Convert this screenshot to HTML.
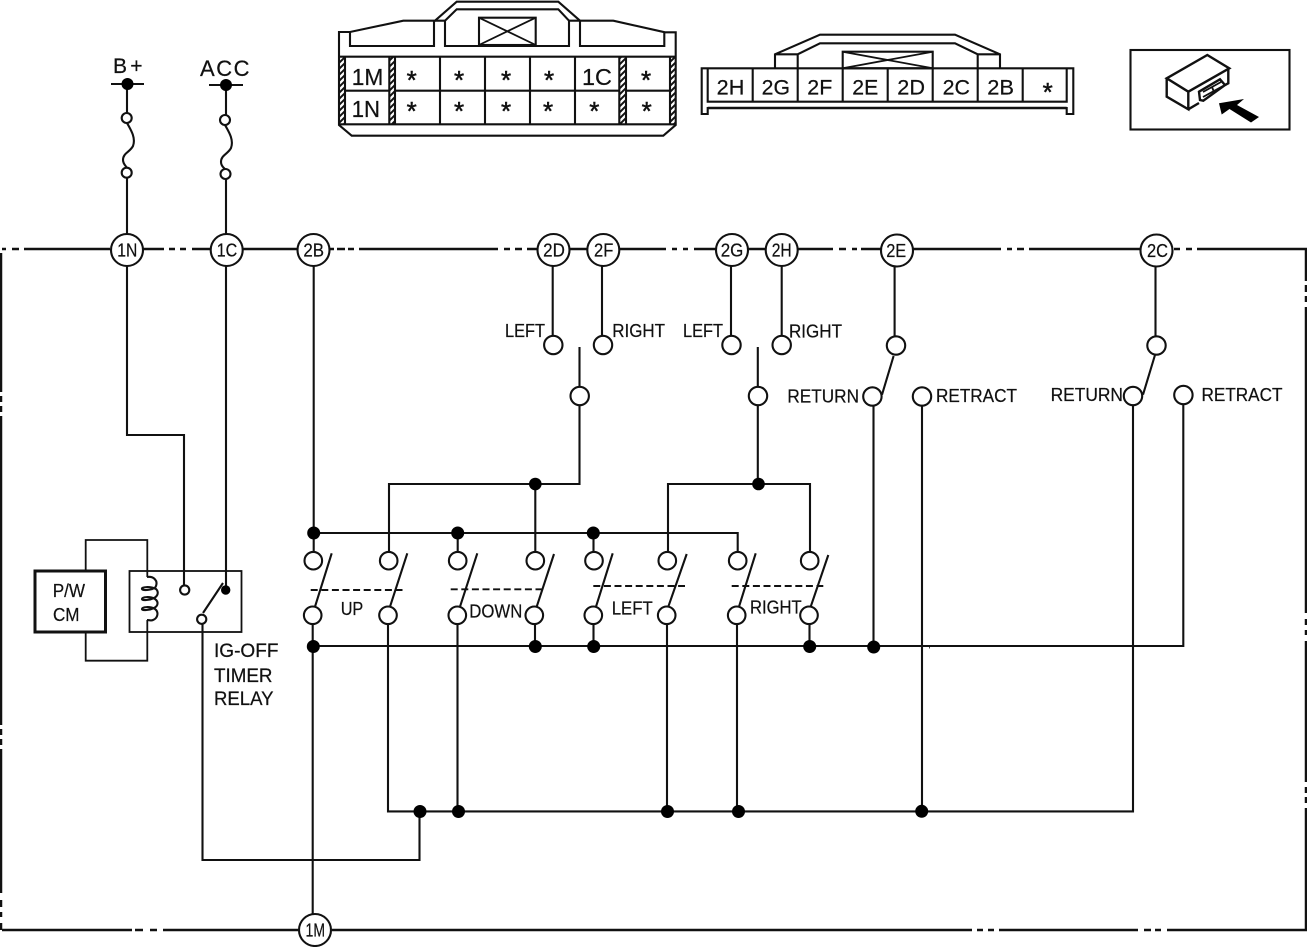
<!DOCTYPE html>
<html lang="en">
<head>
<meta charset="utf-8">
<title>Wiring diagram</title>
<style>
html,body{margin:0;padding:0;background:#fff;}
svg{display:block;}
text{font-family:"Liberation Sans",sans-serif;fill:#111;stroke:#111;stroke-width:.22px;}
.w{fill:none;stroke:#111;stroke-width:2.1;stroke-linejoin:miter;}
.n{fill:none;stroke:#111;stroke-width:1.8;}
.b{fill:none;stroke:#111;stroke-width:3;}
.o{fill:#fff;stroke:#111;stroke-width:2.1;}
.d{fill:#000;}
.da{fill:none;stroke:#111;stroke-width:1.9;stroke-dasharray:7 3.6;}
.l{font-size:18.5px;}
.c{font-size:18px;text-anchor:middle;}
.q{font-size:21px;}
.s{font-size:26px;text-anchor:middle;stroke-width:.5px;}
</style>
</head>
<body>
<svg width="1307" height="947" viewBox="0 0 1307 947" xmlns="http://www.w3.org/2000/svg">
<defs>
<pattern id="h" width="6" height="6" patternUnits="userSpaceOnUse">
<rect width="6" height="6" fill="#fff"/>
<path d="M-1 7L7 -1M-1 1L1 -1M5 7L7 5" stroke="#111" stroke-width="2"/>
</pattern>
</defs>
<rect width="1307" height="947" fill="#fff"/>

<!-- frame -->
<path class="w" style="stroke-width:2.5" d="M2 249H6M12 249H19M24 249H110M143 249H164M169 249H175M180 249H186M192 249H210M240 249H298M330 249H334M337 249H345M348 249H354M359 249H498M504 249H510M515 249H522M527 249H537M569 249H587M619 249H666M672 249H677M683 249H688M694 249H716M748 249H766M798 249H833M839 249H846M852 249H857M861 249H881M913 249H1001M1007 249H1012M1017 249H1024M1029 249H1141M1174 249H1180M1186 249H1192M1197 249H1306V281M1306 285V292M1306 296V302M1306 307V613M1306 619V625M1306 630V635M1306 641V782M1306 787V793M1306 797V803M1306 808V930H1167M1161 930H1155M1151 930H1144M1138 930H999M994 930H988M983 930H977M972 930H332M298 930H163M157 930H150M143 930H135M132 930H2M1 930V923M1 917V912M1 907V900M1 893V749M1 745V739M1 735V729M1 725V416M1 412V406M1 402V396M1 392V253"/>

<!-- power inputs -->
<path class="w" d="M111 84H144M127 84V113M127 178V234M209 85H243M226 85V115M226 179V234"/>
<path class="w" d="M127 123C131 130 136 138 133 146C130 152 123 153 123 160C123 164 126 166 127 168"/>
<path class="w" d="M225 125C229 132 234 140 231 148C228 154 221 155 221 162C221 166 224 168 225 169"/>
<circle class="d" cx="127.5" cy="84" r="6"/><circle class="d" cx="226" cy="85" r="6"/>
<circle class="o" cx="126.7" cy="118" r="5"/><circle class="o" cx="126.7" cy="172.7" r="5"/>
<circle class="o" cx="225" cy="120" r="5"/><circle class="o" cx="225.5" cy="174" r="5"/>
<text x="113" y="73" font-size="21" textLength="29.5">B+</text>
<text x="200" y="76" font-size="22" textLength="49.5">ACC</text>

<!-- relay -->
<path class="w" d="M127 266V435H184V585M226 266V586"/>
<rect class="n" x="129.5" y="571" width="112" height="61"/>
<rect class="b" x="35" y="571" width="70.5" height="61"/>
<path class="n" d="M85.7 571V540H147.3V577M85.7 632V660.7H147.3V620"/>
<path class="w" d="M147 577C154 576 158 581 156 586C155 590 143 591 142 589C141 587 150 586 156 589C159 592 158 596 154 598C150 600 142 601 142 599C142 597 150 596 155 599C159 602 158 606 154 608C150 610 142 611 142 609C142 607 150 606 155 609C159 612 158 618 153 620C151 621 149 620 147 620"/>
<circle class="o" cx="184.7" cy="590" r="4.6"/>
<circle class="d" cx="225.7" cy="590" r="4.7"/>
<path class="w" d="M203 613L223 583"/>
<circle class="o" cx="201.7" cy="619.3" r="4.6"/>
<path class="w" d="M202.5 624V860H419.5V812"/>
<text x="52.7" y="597" font-size="18" textLength="32.3" lengthAdjust="spacingAndGlyphs">P/W</text>
<text x="53" y="621" font-size="18" textLength="26.5" lengthAdjust="spacingAndGlyphs">CM</text>
<text x="214" y="657" font-size="19" textLength="64.5" lengthAdjust="spacingAndGlyphs">IG-OFF</text>
<text x="214" y="682" font-size="19" textLength="58.5" lengthAdjust="spacingAndGlyphs">TIMER</text>
<text x="214" y="705" font-size="19" textLength="59.5" lengthAdjust="spacingAndGlyphs">RELAY</text>

<!-- upper wires -->
<path class="w" d="M552.7 266V336M602 266V336M731 266V336M781.7 266V336M894.6 266V336M1155.5 266V336"/>
<path class="w" d="M579.5 347V484H389V552M535.3 484V552M757.8 347V484M668 552V484H810V552"/>
<path class="w" d="M313.7 266V552M313.7 533H737.7V552M457.7 533V552M593.5 533V552"/>
<path class="w" d="M312.7 625V915M313 646H1183.3V405M388 625V811.4H1133V405M457.5 625V811M535 625V646M593.5 625V646M667 625V811M737 625V811M809.5 625V646M873.5 405V646M922 405V811"/>
<path class="w" d="M893.6 356L882 394.7M1155 355L1143 394.7"/>

<!-- switch arms -->
<path class="w" d="M331.7 553.3L315 606.7M407.3 553.3L390 606.7M477.3 553.3L460 606.7M554 554L536.7 606.7M612.7 553.3L596 606.7M686.7 554L668.3 606.7M755.7 553.3L739 606.7M828.3 555L810.7 606.7"/>
<path class="da" d="M310.7 590H402.7M450.7 589.3H541.7M593.3 586H685M731.7 586H823.3"/>

<!-- open circles -->
<g>
<circle class="o" cx="553.3" cy="345" r="9.2"/><circle class="o" cx="603" cy="345" r="9.2"/>
<circle class="o" cx="731.5" cy="345" r="9.2"/><circle class="o" cx="781.7" cy="345" r="9.2"/>
<circle class="o" cx="896" cy="345.5" r="9.2"/><circle class="o" cx="1156.5" cy="345.5" r="9.2"/>
<circle class="o" cx="579.7" cy="396" r="9.2"/><circle class="o" cx="758" cy="396" r="9.2"/>
<circle class="o" cx="872.4" cy="396.5" r="9.2"/><circle class="o" cx="922" cy="396.5" r="9.2"/>
<circle class="o" cx="1133" cy="396" r="9.2"/><circle class="o" cx="1183.4" cy="395" r="9.2"/>
<circle class="o" cx="313.3" cy="560.7" r="8.8"/><circle class="o" cx="388.7" cy="560.7" r="8.8"/>
<circle class="o" cx="457.7" cy="560.7" r="8.8"/><circle class="o" cx="535.3" cy="560.7" r="8.8"/>
<circle class="o" cx="594" cy="560.7" r="8.8"/><circle class="o" cx="667.3" cy="560.7" r="8.8"/>
<circle class="o" cx="737.7" cy="560.7" r="8.8"/><circle class="o" cx="809.7" cy="560.7" r="8.8"/>
<circle class="o" cx="312.7" cy="615.3" r="8.8"/><circle class="o" cx="388" cy="615.3" r="8.8"/>
<circle class="o" cx="457.3" cy="615.3" r="8.8"/><circle class="o" cx="534.3" cy="615.3" r="8.8"/>
<circle class="o" cx="593.3" cy="615.3" r="8.8"/><circle class="o" cx="666.7" cy="615.3" r="8.8"/>
<circle class="o" cx="736.7" cy="615.3" r="8.8"/><circle class="o" cx="809" cy="615.3" r="8.8"/>
</g>

<!-- junction dots -->
<circle class="d" cx="535.3" cy="484" r="6.3"/><circle class="d" cx="758.5" cy="484" r="6.3"/>
<circle class="d" cx="313.7" cy="533" r="6.5"/><circle class="d" cx="457.7" cy="533" r="6.5"/><circle class="d" cx="593.3" cy="533" r="6.5"/>
<circle class="d" cx="313.3" cy="646.5" r="6.5"/><circle class="d" cx="535.3" cy="646.5" r="6.5"/><circle class="d" cx="593.7" cy="646.5" r="6.5"/><circle class="d" cx="809.7" cy="646.5" r="6.5"/><circle class="d" cx="873.7" cy="647" r="6.5"/>
<circle class="d" cx="420" cy="811.5" r="6.5"/><circle class="d" cx="458.5" cy="811.5" r="6.5"/><circle class="d" cx="667.5" cy="811.5" r="6.5"/><circle class="d" cx="738.5" cy="811.5" r="6.5"/><circle class="d" cx="921.7" cy="811.3" r="6.5"/>
<rect x="929" y="647" width="1" height="1.5" fill="#444"/>

<!-- connector bubbles -->
<circle class="o" cx="127" cy="250" r="16"/><text class="c" x="127.3" y="256.7" textLength="20" lengthAdjust="spacingAndGlyphs">1N</text>
<circle class="o" cx="226.7" cy="250" r="16"/><text class="c" x="227" y="256.7" textLength="20.5" lengthAdjust="spacingAndGlyphs">1C</text>
<circle class="o" cx="313.5" cy="250" r="16"/><text class="c" x="313.7" y="256.7" textLength="20.7" lengthAdjust="spacingAndGlyphs">2B</text>
<circle class="o" cx="553.5" cy="250" r="16"/><text class="c" x="554" y="256.7" textLength="21.7" lengthAdjust="spacingAndGlyphs">2D</text>
<circle class="o" cx="603.3" cy="250" r="16"/><text class="c" x="603.7" y="256.7" textLength="19.3" lengthAdjust="spacingAndGlyphs">2F</text>
<circle class="o" cx="732" cy="250" r="16"/><text class="c" x="732" y="256.7" textLength="22.6" lengthAdjust="spacingAndGlyphs">2G</text>
<circle class="o" cx="781.7" cy="250" r="16"/><text class="c" x="781.7" y="256.7" textLength="20" lengthAdjust="spacingAndGlyphs">2H</text>
<circle class="o" cx="897" cy="250.5" r="16"/><text class="c" x="896.2" y="257" textLength="20" lengthAdjust="spacingAndGlyphs">2E</text>
<circle class="o" cx="1156.5" cy="250.5" r="16"/><text class="c" x="1157.5" y="257" textLength="21" lengthAdjust="spacingAndGlyphs">2C</text>
<circle class="o" cx="315" cy="930" r="16"/><text class="c" x="315.3" y="936.7" textLength="19.5" lengthAdjust="spacingAndGlyphs">1M</text>

<!-- labels -->
<text class="l" x="505" y="337" textLength="40" lengthAdjust="spacingAndGlyphs">LEFT</text>
<text class="l" x="612.3" y="337" textLength="52.7" lengthAdjust="spacingAndGlyphs">RIGHT</text>
<text class="l" x="683" y="337" textLength="40" lengthAdjust="spacingAndGlyphs">LEFT</text>
<text class="l" x="789" y="337.5" textLength="53" lengthAdjust="spacingAndGlyphs">RIGHT</text>
<text class="l" x="787.4" y="402.5" textLength="71.6" lengthAdjust="spacingAndGlyphs">RETURN</text>
<text class="l" x="936" y="402" textLength="81" lengthAdjust="spacingAndGlyphs">RETRACT</text>
<text class="l" x="1050.6" y="401" textLength="72.4" lengthAdjust="spacingAndGlyphs">RETURN</text>
<text class="l" x="1201.5" y="401" textLength="81" lengthAdjust="spacingAndGlyphs">RETRACT</text>
<text class="l" x="340.7" y="615" textLength="22.6" lengthAdjust="spacingAndGlyphs">UP</text>
<text class="l" x="469.3" y="617.7" textLength="53" lengthAdjust="spacingAndGlyphs">DOWN</text>
<text class="l" x="611.7" y="614.3" textLength="41" lengthAdjust="spacingAndGlyphs">LEFT</text>
<text class="l" x="750" y="613.3" textLength="51.7" lengthAdjust="spacingAndGlyphs">RIGHT</text>

<!-- connector 1 -->
<g>
<rect x="339" y="57" width="6" height="67.5" fill="url(#h)"/>
<rect x="389.3" y="57" width="5.7" height="67.5" fill="url(#h)"/>
<rect x="619.3" y="57" width="6.7" height="67.5" fill="url(#h)"/>
<rect x="670" y="57" width="5.7" height="67.5" fill="url(#h)"/>
<path class="w" d="M339 125V32H350L403.3 20.7H435L456.7 1.7H558.3L580 20.7H613.3L665 32.3H675.7V125L663.3 135.7H351.7L339 125Z"/>
<path class="w" d="M350 32V46H434V20.7M445 20.7V46H569V20.7M445 20.7L456.7 9.3H558.3L569 20.7M580 20.7V46H664.3V32.3"/>
<path class="w" d="M435 20.7H445M569 20.7H580"/>
<rect class="w" x="479" y="17.7" width="56.7" height="27.3"/>
<path class="n" d="M479 17.7L535.7 45M535.7 17.7L479 45"/>
<path class="w" d="M339 56.7H675.7M339 124.3H675.7M345 57V124M389.3 57V124M395 57V124M440 57V124M485 57V124M530 57V124M575 57V124M619.3 57V124M626 57V124M670 57V124M345 90.7H389.3M395 90.7H619.3M626 90.7H670"/>
<text x="351.7" y="85" font-size="23" textLength="31.6" lengthAdjust="spacingAndGlyphs">1M</text>
<text x="351.7" y="117" font-size="23" textLength="28.3" lengthAdjust="spacingAndGlyphs">1N</text>
<text x="582" y="85" font-size="23" textLength="30" lengthAdjust="spacingAndGlyphs">1C</text>
<text class="s" x="411.7" y="89">*</text><text class="s" x="459" y="89">*</text><text class="s" x="506" y="89">*</text><text class="s" x="549" y="89">*</text><text class="s" x="646" y="89">*</text>
<text class="s" x="411.7" y="120">*</text><text class="s" x="459" y="120">*</text><text class="s" x="506" y="120">*</text><text class="s" x="548" y="120">*</text><text class="s" x="594.3" y="120">*</text><text class="s" x="646.7" y="120">*</text>
</g>

<!-- connector 2 -->
<g>
<path class="w" d="M775 68.3V54.3L820 34.7H955L1000 54.3V68.3M797.7 68.3V54.3L820 43.3H955L977.7 54.3V68.3M775 54.3H797.7M977.7 54.3H1000"/>
<rect class="w" x="842.7" y="51.7" width="90" height="16.6"/>
<path class="n" d="M842.7 51.7L932.7 68.3M932.7 51.7L842.7 68.3"/>
<path class="w" d="M701.7 68.3H1073.3V114H1066.7V108H707.7V114H701.7Z"/>
<path class="w" d="M707.7 68.3V101.7H1066.7V68.3M752.7 68.3V101.7M797.7 68.3V101.7M842.7 68.3V101.7M887.7 68.3V101.7M932.7 68.3V101.7M977.7 68.3V101.7M1022.7 68.3V101.7"/>
<path class="w" style="stroke-width:2.6" d="M707.7 108H1066.7"/>
<text class="q" x="716.7" y="94.3" textLength="27.6" lengthAdjust="spacingAndGlyphs">2H</text>
<text class="q" x="761.7" y="94.3" textLength="28.3" lengthAdjust="spacingAndGlyphs">2G</text>
<text class="q" x="807.3" y="94.3" textLength="25" lengthAdjust="spacingAndGlyphs">2F</text>
<text class="q" x="852.3" y="94.3" textLength="26" lengthAdjust="spacingAndGlyphs">2E</text>
<text class="q" x="897.3" y="94.3" textLength="27.7" lengthAdjust="spacingAndGlyphs">2D</text>
<text class="q" x="942.7" y="94.3" textLength="27.3" lengthAdjust="spacingAndGlyphs">2C</text>
<text class="q" x="987.3" y="94.3" textLength="26.7" lengthAdjust="spacingAndGlyphs">2B</text>
<text class="s" x="1047.7" y="101">*</text>
</g>

<!-- harness icon -->
<g>
<rect x="1130.5" y="50" width="159" height="79.5" fill="#fff" stroke="#111" stroke-width="2.1"/>
<path class="w" style="stroke-width:2.4" d="M1207.3 55L1166.7 78.3L1188.3 91.7L1229.3 68.3ZM1166.7 78.3V96.7L1188.3 109.3V91.7M1188.3 109.3L1199 103M1225 85L1228.3 83.3V68.3"/>
<path class="w" style="fill:#fff;stroke-width:2.4" d="M1199 91.7L1220 79.3L1225 85L1203.3 100.7L1200 100Z"/>
<path class="n" d="M1203 92L1221 82M1203 97L1223 86M1212 87L1214 92"/>
<path class="d" d="M1219 103.3L1244 99L1237 105L1259 117L1251 122.5L1229.5 109L1221.7 114.5Z"/>
</g>
</svg>
</body>
</html>
